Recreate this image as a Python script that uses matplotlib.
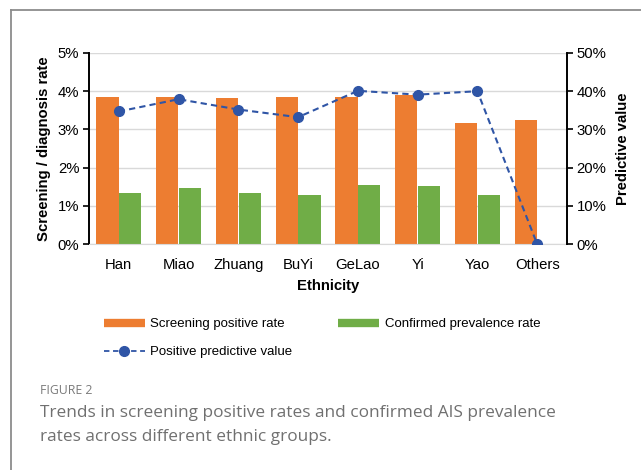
import matplotlib
matplotlib.use("Agg")
import matplotlib.pyplot as plt
import numpy as np
from matplotlib.lines import Line2D
from matplotlib.ticker import FuncFormatter

plt.rcParams['font.family'] = ['Liberation Sans', 'DejaVu Sans']

ethnicities = ["Han", "Miao", "Zhuang", "BuYi", "GeLao", "Yi", "Yao", "Others"]
screening_rate = [3.86, 3.84, 3.82, 3.86, 3.86, 3.89, 3.18, 3.24]   # %
confirmed_rate = [1.33, 1.46, 1.34, 1.29, 1.54, 1.53, 1.27, 0.0]    # %
ppv = [34.7, 37.9, 35.2, 33.2, 40.1, 39.1, 40.0, 0.0]               # %

ORANGE = "#ED7D31"
GREEN = "#70AD47"
BLUE = "#2F55A6"
GRID = "#D9D9D9"
TICK_FS = 10.7

fig = plt.figure(figsize=(6.41, 4.70), dpi=100)
ax = fig.add_axes([89 / 641, 1 - 244 / 470, (567 - 89) / 641, (244 - 53) / 470])

x = np.arange(len(ethnicities))
w = 0.37
ax.bar(x - w / 2 - 0.005, screening_rate, w, color=ORANGE, zorder=2)
ax.bar(x + w / 2 + 0.005, confirmed_rate, w, color=GREEN, zorder=2)

ax.set_xlim(-0.5, len(ethnicities) - 0.5)
ax.set_ylim(0, 5)
ax.set_yticks(np.arange(0, 6, 1))
ax.yaxis.set_major_formatter(FuncFormatter(lambda v, p: f"{v:.0f}%"))
ax.set_xticks(x)
ax.set_xticklabels(ethnicities)
ax.tick_params(axis='x', length=0, pad=10, labelsize=TICK_FS)
ax.tick_params(axis='y', length=4, width=1.2, labelsize=TICK_FS, pad=3)
ax.grid(axis='y', color=GRID, lw=1, zorder=0)
ax.set_axisbelow(True)
for s in ("top", "right"):
    ax.spines[s].set_visible(False)
ax.spines["bottom"].set_color(GRID)
ax.spines["left"].set_linewidth(1.4)
ax.set_ylabel("Screening / diagnosis rate", fontsize=10.7, fontweight='bold', labelpad=5)
ax.set_xlabel("Ethnicity", fontsize=10.7, fontweight='bold', labelpad=5)

ax2 = ax.twinx()
ax2.plot(x, ppv, ls=(0, (3, 2)), lw=1.5, color=BLUE, marker='o', ms=7, zorder=3)
ax2.set_ylim(0, 50)
ax2.set_yticks(np.arange(0, 60, 10))
ax2.yaxis.set_major_formatter(FuncFormatter(lambda v, p: f"{v:.0f}%"))
ax2.tick_params(axis='y', length=4, width=1.2, labelsize=TICK_FS, pad=3)
for s in ("top", "left", "bottom"):
    ax2.spines[s].set_visible(False)
ax2.spines["right"].set_linewidth(1.4)
ax2.set_ylabel("Predictive value", fontsize=10.7, fontweight='bold', labelpad=7)

handles = [
    Line2D([], [], color=ORANGE, lw=6, solid_capstyle='butt'),
    Line2D([], [], color=BLUE, lw=1.3, ls=(0, (3, 2)), marker='o', ms=7),
    Line2D([], [], color=GREEN, lw=6, solid_capstyle='butt'),
]
labels = ["Screening positive rate", "Positive predictive value", "Confirmed prevalence rate"]
fig.legend(handles, labels, ncol=2, loc='upper left', bbox_to_anchor=(104 / 641, 1 - 318 / 470),
           frameon=False, fontsize=9.5, handlelength=3.1, handletextpad=0.4,
           columnspacing=3.5, labelspacing=1.2, borderpad=0, borderaxespad=0)

# frame lines around the figure panel
fig.add_artist(Line2D([11 / 641, 1], [1 - 10 / 470, 1 - 10 / 470], color="#8C8C8C", lw=1.3))
fig.add_artist(Line2D([11 / 641, 11 / 641], [0, 1 - 10 / 470], color="#8C8C8C", lw=1.3))

fig.text(40 / 641, 1 - 391 / 470, "FIGURE 2", fontsize=8.8, color="#7A7A7A",
         family=['Open Sans', 'DejaVu Sans'], va='center')
fig.text(40 / 641, 1 - 413 / 470, "Trends in screening positive rates and confirmed AIS prevalence",
         fontsize=12.4, color="#707070", family=['Open Sans', 'DejaVu Sans'], va='center')
fig.text(40 / 641, 1 - 437 / 470, "rates across different ethnic groups.",
         fontsize=12.4, color="#707070", family=['Open Sans', 'DejaVu Sans'], va='center')

fig.savefig("out.png", dpi=100)
